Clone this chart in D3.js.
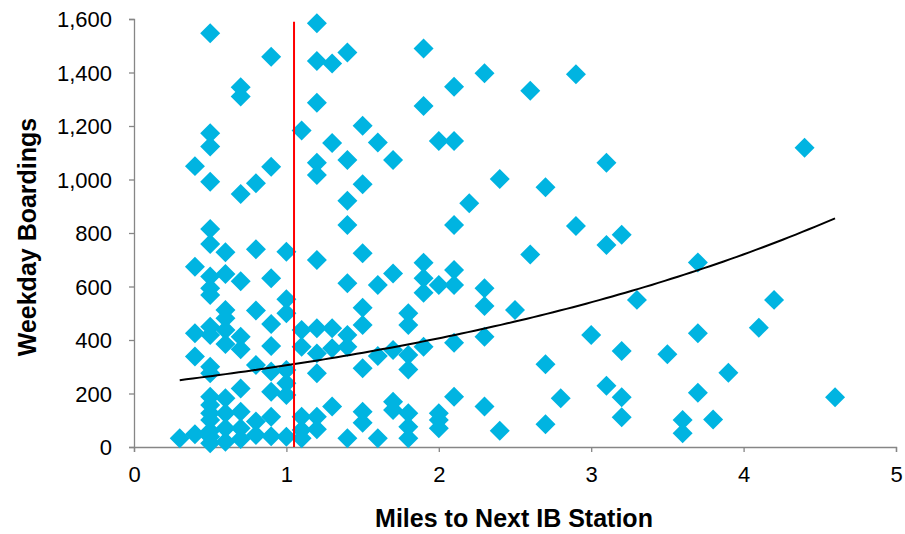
<!DOCTYPE html>
<html>
<head>
<meta charset="utf-8">
<script src="https://cdn.jsdelivr.net/npm/d3@7"></script>
<style>
  body { margin: 0; background: #fff; }
  text { font-family: "Liberation Sans", Arial, sans-serif; }
</style>
</head>
<body>
<svg id="chart" width="905" height="534"></svg>
<script>
// points grouped by distance column (miles), boardings
var miles = [
  0.3,
  0.4, 0.4, 0.4, 0.4, 0.4,
  0.5, 0.5, 0.5, 0.5, 0.5, 0.5, 0.5, 0.5, 0.5, 0.5, 0.5, 0.5, 0.5, 0.5, 0.5, 0.5, 0.5, 0.5, 0.5, 0.5,
  0.6, 0.6, 0.6, 0.6, 0.6, 0.6, 0.6, 0.6, 0.6, 0.6,
  0.7, 0.7, 0.7, 0.7, 0.7, 0.7, 0.7, 0.7, 0.7, 0.7,
  0.8, 0.8, 0.8, 0.8, 0.8, 0.8,
  0.9, 0.9, 0.9, 0.9, 0.9, 0.9, 0.9, 0.9, 0.9,
  1.0, 1.0, 1.0, 1.0, 1.0, 1.0, 1.0,
  1.1, 1.1, 1.1, 1.1, 1.1, 1.1,
  1.2, 1.2, 1.2, 1.2, 1.2, 1.2, 1.2, 1.2, 1.2, 1.2, 1.2,
  1.3, 1.3, 1.3, 1.3, 1.3,
  1.4, 1.4, 1.4, 1.4, 1.4, 1.4, 1.4, 1.4,
  1.5, 1.5, 1.5, 1.5, 1.5, 1.5, 1.5, 1.5,
  1.6, 1.6, 1.6, 1.6,
  1.7, 1.7, 1.7, 1.7, 1.7,
  1.8, 1.8, 1.8, 1.8, 1.8, 1.8, 1.8,
  1.9, 1.9, 1.9, 1.9, 1.9, 1.9,
  2.0, 2.0, 2.0, 2.0, 2.0,
  2.1, 2.1, 2.1, 2.1, 2.1, 2.1, 2.1,
  2.2,
  2.3, 2.3, 2.3, 2.3, 2.3,
  2.4, 2.4,
  2.5,
  2.6, 2.6,
  2.7, 2.7, 2.7,
  2.8,
  2.9, 2.9,
  3.0,
  3.1, 3.1, 3.1,
  3.2, 3.2, 3.2, 3.2,
  3.3,
  3.5,
  3.6, 3.6,
  3.7, 3.7, 3.7,
  3.8,
  3.9,
  4.1,
  4.2,
  4.4,
  4.6
];
var boardings = [
  33,
  1050, 674, 425, 338, 48,
  1547, 1173, 1123, 992, 815, 759, 637, 593, 568, 450, 419, 300, 276, 188, 157, 126, 101, 60, 38, 14,
  728, 647, 512, 481, 437, 385, 182, 126, 70, 20,
  1345, 1310, 946, 620, 412, 365, 219, 132, 70, 30,
  986, 739, 510, 307, 95, 45,
  1459, 1048, 631, 460, 378, 282, 207, 113, 40,
  730, 552, 500, 288, 238, 194, 38,
  1183, 437, 375, 113, 64, 33,
  1584, 1443, 1287, 1063, 1017, 699, 444, 350, 276, 113, 66,
  1434, 1136, 444, 369, 151,
  1475, 1073, 921, 830, 612, 419, 375, 33,
  1201, 982, 724, 521, 456, 294, 132, 91,
  1138, 606, 340, 33,
  1073, 649, 363, 169, 138,
  500, 456, 344, 290, 126, 76, 33,
  1490, 1275, 689, 631, 577, 375,
  1144, 606, 126, 101, 70,
  1347, 1144, 830, 662, 606, 390, 188,
  911,
  1397, 593, 527, 412, 151,
  1002, 61,
  512,
  1332, 720,
  971, 309, 85,
  182,
  1393, 826,
  419,
  1063, 755, 229,
  793, 359, 186, 111,
  550,
  347,
  101, 51,
  690, 425, 203,
  103,
  278,
  446,
  550,
  1119,
  186
];

var xTicks = [0, 1, 2, 3, 4, 5];
var yTicks = [0, 200, 400, 600, 800, 1000, 1200, 1400, 1600];

// red reference line
var refMiles = 1.05, refTop = 1590;
// exponential trendline y = a * e^(b x)
var trendA = 229.4, trendB = 0.286, trendFrom = 0.3, trendTo = 4.6;

var margin = { top: 19, right: 9, bottom: 87, left: 134 },
  width = 905 - margin.left - margin.right,
  height = 534 - margin.top - margin.bottom;

var svg = d3.select("#chart")
  .append("g")
  .attr("transform", "translate(" + margin.left + "," + margin.top + ")");

var x = d3.scaleLinear().domain([0, 5]).range([0, 762]);
var y = d3.scaleLinear().domain([0, 1600]).range([height, 0]);

// x axis
var xAxis = svg.append("g")
  .attr("transform", "translate(0," + height + ")")
  .call(d3.axisBottom(x).tickValues(xTicks).tickSize(5).tickPadding(14).tickFormat(d3.format("d")));

// y axis
var yAxis = svg.append("g")
  .call(d3.axisLeft(y).tickValues(yTicks).tickSize(5).tickPadding(17).tickFormat(d3.format(",")));

[xAxis, yAxis].forEach(function (a) {
  a.select(".domain").attr("stroke", "#868686").attr("stroke-width", 1.3);
  a.selectAll(".tick line").attr("stroke", "#868686").attr("stroke-width", 1.3);
  a.selectAll(".tick text").attr("fill", "#000").style("font-size", "22px")
    .style("font-family", "'Liberation Sans', Arial, sans-serif");
});
yAxis.selectAll(".tick text").attr("dy", "0.35em");

// axis titles
svg.append("text")
  .attr("x", x(2.5) - 1)
  .attr("y", height + 80)
  .attr("text-anchor", "middle")
  .style("font-size", "25px")
  .style("font-weight", "bold")
  .text("Miles to Next IB Station");

svg.append("text")
  .attr("transform", "translate(-98," + (height / 2 + 4) + ") rotate(-90)")
  .attr("text-anchor", "middle")
  .style("font-size", "25px")
  .style("font-weight", "bold")
  .text("Weekday Boardings");

// points
var pts = miles.map(function (m, i) {
  return { miles: m, boardings: boardings[i] };
});

svg.append("g")
  .selectAll("path")
  .data(pts)
  .enter()
  .append("path")
  .attr("d", d3.symbol().type(d3.symbolSquare).size(200))
  .attr("transform", function (d) {
    return "translate(" + x(d.miles) + "," + y(d.boardings) + ") rotate(45)";
  })
  .attr("fill", "#00B4E1");

// trendline
var trendPts = d3.range(0, 101).map(function (i) {
  var m = trendFrom + (trendTo - trendFrom) * i / 100;
  return [m, trendA * Math.exp(trendB * m)];
});
svg.append("path")
  .datum(trendPts)
  .attr("fill", "none")
  .attr("stroke", "#000")
  .attr("stroke-width", 2)
  .attr("d", d3.line()
    .x(function (d) { return x(d[0]); })
    .y(function (d) { return y(d[1]); }));

// red line
svg.append("line")
  .attr("x1", x(refMiles)).attr("x2", x(refMiles))
  .attr("y1", y(0)).attr("y2", y(refTop))
  .attr("stroke", "#FF0000")
  .attr("stroke-width", 2);
</script>
</body>
</html>
